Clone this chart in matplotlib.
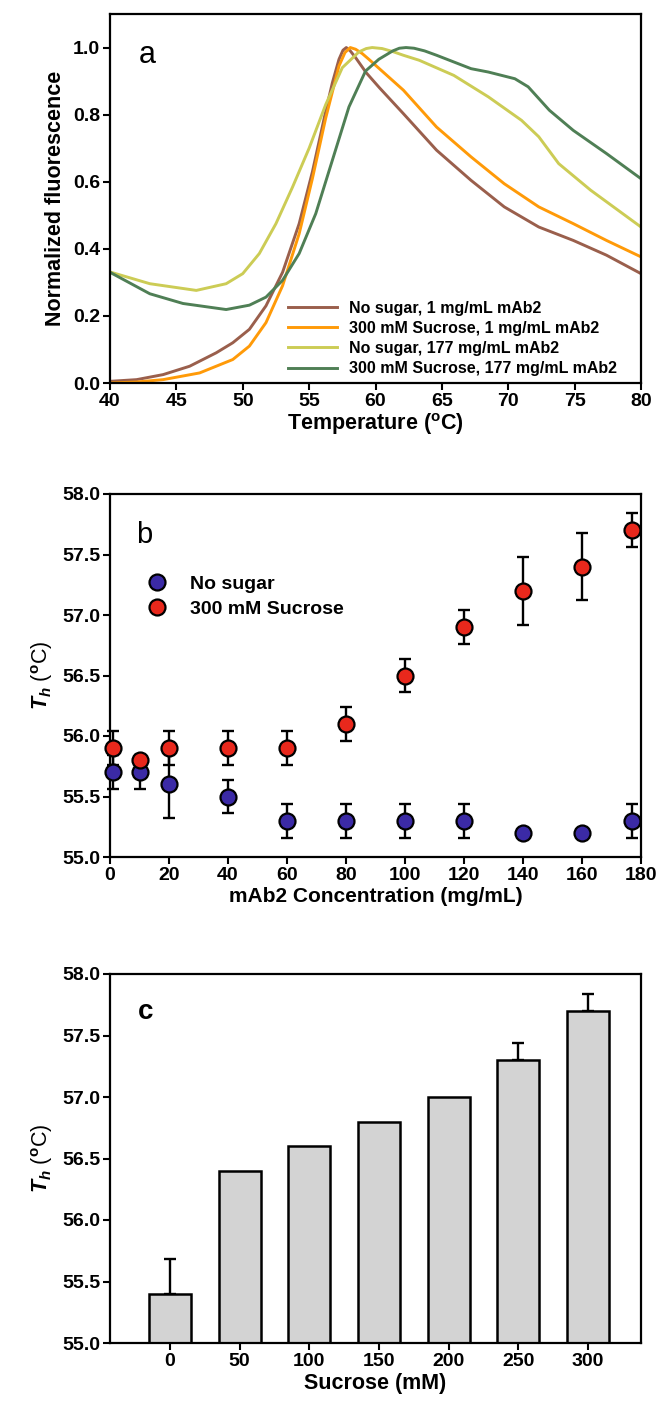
import matplotlib
matplotlib.use("Agg")
import matplotlib.pyplot as plt
from matplotlib.ticker import FormatStrFormatter

plt.rcParams['font.family'] = ['Liberation Sans', 'DejaVu Sans']
plt.rcParams['font.weight'] = 'bold'
plt.rcParams['mathtext.fontset'] = 'custom'
plt.rcParams['mathtext.rm'] = 'Liberation Sans:bold'
plt.rcParams['mathtext.it'] = 'Liberation Sans:italic:bold'
plt.rcParams['mathtext.bf'] = 'Liberation Sans:bold'

# ---------------- Panel a data ----------------
t_brown = [40, 42, 44, 46, 48, 49.25, 50.5, 51.75, 53, 54.25, 55.25, 56.25, 56.75, 57.25, 57.55, 57.8,
           58.1, 58.5, 59.3, 60.3, 62.1, 64.6, 67.2, 69.7, 72.3, 74.9, 77.4, 80]
v_brown = [0.005, 0.01, 0.025, 0.05, 0.09, 0.12, 0.16, 0.23, 0.33, 0.475, 0.63, 0.81, 0.895, 0.965, 0.992, 1.0,
           0.99, 0.97, 0.925, 0.88, 0.803, 0.694, 0.604, 0.525, 0.465, 0.425, 0.381, 0.326]

t_orange = [40, 42, 44, 46.75, 49.25, 50.5, 51.75, 53, 54.25, 55.25, 56.25, 57.25, 57.7, 58.1,
            58.5, 59.0, 59.5, 62.1, 64.6, 67.2, 69.7, 72.3, 74.9, 77.4, 80]
v_orange = [0.0, 0.003, 0.01, 0.03, 0.07, 0.11, 0.18, 0.29, 0.445, 0.61, 0.79, 0.945, 0.985, 1.0,
            0.995, 0.982, 0.965, 0.873, 0.763, 0.674, 0.594, 0.525, 0.475, 0.425, 0.376]

t_yellow = [40, 43, 46.5, 48.75, 50, 51.25, 52.5, 53.75, 55, 56.25, 57.5, 58.75, 59.3, 59.75,
            60.5, 61.3, 62.1, 63.3, 65.9, 68.5, 71, 72.3, 73.8, 76.2, 80]
v_yellow = [0.331, 0.296, 0.276, 0.296, 0.326, 0.386, 0.475, 0.584, 0.70, 0.83, 0.94, 0.987, 0.997, 1.0,
            0.997, 0.988, 0.977, 0.962, 0.917, 0.853, 0.783, 0.734, 0.654, 0.575, 0.465]

t_green = [40, 43, 45.5, 48.75, 50.5, 51.75, 53, 54.25, 55.5, 56.75, 58, 59.25, 60.25, 61.3, 61.8,
           62.3, 62.9, 63.7, 64.6, 67.2, 68.5, 70.5, 71.5, 73.1, 74.9, 77.4, 80]
v_green = [0.33, 0.266, 0.237, 0.219, 0.232, 0.256, 0.306, 0.386, 0.505, 0.664, 0.823, 0.93, 0.965, 0.99, 0.998,
           1.0, 0.998, 0.99, 0.977, 0.937, 0.927, 0.907, 0.883, 0.813, 0.753, 0.684, 0.609]

labels_a = ["No sugar, 1 mg/mL mAb2", "300 mM Sucrose, 1 mg/mL mAb2",
            "No sugar, 177 mg/mL mAb2", "300 mM Sucrose, 177 mg/mL mAb2"]
colors_a = ["#9a5f4c", "#ff9a08", "#cccc55", "#4f7f55"]

# ---------------- Panel b data ----------------
conc = [1, 10, 20, 40, 60, 80, 100, 120, 140, 160, 177]
th_nosugar = [55.7, 55.7, 55.6, 55.5, 55.3, 55.3, 55.3, 55.3, 55.2, 55.2, 55.3]
err_nosugar = [0.14, 0.14, 0.28, 0.14, 0.14, 0.14, 0.14, 0.14, 0.0, 0.0, 0.14]
th_sucrose = [55.9, 55.8, 55.9, 55.9, 55.9, 56.1, 56.5, 56.9, 57.2, 57.4, 57.7]
err_sucrose = [0.14, 0.0, 0.14, 0.14, 0.14, 0.14, 0.14, 0.14, 0.28, 0.28, 0.14]

# ---------------- Panel c data ----------------
sucrose_mM = [0, 50, 100, 150, 200, 250, 300]
th_bar = [55.4, 56.4, 56.6, 56.8, 57.0, 57.3, 57.7]
err_bar = [0.28, 0.0, 0.0, 0.0, 0.0, 0.14, 0.14]

W, H = 657, 1405
fig = plt.figure(figsize=(W / 100, H / 100), dpi=100)

TICK_FS = 14
LABEL_FS = 15.5


def ax_at(left, top, right, bottom):
    return fig.add_axes([left / W, 1 - bottom / H, (right - left) / W, (bottom - top) / H])


def style(ax):
    for s in ax.spines.values():
        s.set_linewidth(1.6)
    ax.tick_params(direction='out', length=5, width=1.5, labelsize=TICK_FS, pad=2)
    for lab in ax.get_xticklabels() + ax.get_yticklabels():
        lab.set_fontweight('bold')


def nonzero(xs, ys, es):
    keep = [i for i, e in enumerate(es) if e > 0]
    return [xs[i] for i in keep], [ys[i] for i in keep], [es[i] for i in keep]


# Panel a
axa = ax_at(110, 14, 641, 383)
for t, v, c, lab in zip([t_brown, t_orange, t_yellow, t_green],
                        [v_brown, v_orange, v_yellow, v_green], colors_a, labels_a):
    axa.plot(t, v, color=c, lw=2.1, label=lab, solid_joinstyle='round')
axa.set_xlim(40, 80)
axa.set_ylim(0, 1.1)
axa.set_xticks(range(40, 81, 5))
axa.set_yticks([0, 0.2, 0.4, 0.6, 0.8, 1.0])
axa.yaxis.set_major_formatter(FormatStrFormatter('%.1f'))
style(axa)
axa.set_xlabel(r'Temperature ($^{\rm o}$C)', fontsize=LABEL_FS, fontweight='bold', labelpad=1)
axa.set_ylabel('Normalized fluorescence', fontsize=LABEL_FS, fontweight='bold', labelpad=5)
axa.text(0.055, 0.89, 'a', transform=axa.transAxes, fontsize=22, fontweight='normal',
         va='center', ha='left')
axa.legend(loc='lower left', bbox_to_anchor=(0.335, 0.018), frameon=False,
           handlelength=3.1, handletextpad=0.75, labelspacing=0.33, borderaxespad=0.0,
           borderpad=0.0, prop={'weight': 'bold', 'size': 11.5})

# Panel b
axb = ax_at(110, 494, 641, 857)
for th, er in ((th_nosugar, err_nosugar), (th_sucrose, err_sucrose)):
    xs, ys, es = nonzero(conc, th, er)
    axb.errorbar(xs, ys, yerr=es, fmt='none', ecolor='black',
                 elinewidth=1.7, capsize=4.5, capthick=1.7, clip_on=False, zorder=2)
axb.plot(conc, th_nosugar, 'o', ms=11.5, mfc='#3b2aa6', mec='black', mew=1.6,
         clip_on=False, zorder=3, label='No sugar')
axb.plot(conc, th_sucrose, 'o', ms=11.5, mfc='#e8281c', mec='black', mew=1.6,
         clip_on=False, zorder=3, label='300 mM Sucrose')
axb.set_xlim(0, 180)
axb.set_ylim(55, 58)
axb.set_xticks(range(0, 181, 20))
axb.set_yticks([55.0, 55.5, 56.0, 56.5, 57.0, 57.5, 58.0])
axb.yaxis.set_major_formatter(FormatStrFormatter('%.1f'))
style(axb)
axb.set_xlabel('mAb2 Concentration (mg/mL)', fontsize=LABEL_FS - 0.5, fontweight='bold', labelpad=2)
axb.set_ylabel(r'$\mathit{T_h}$ ($^{\rm o}$C)', fontsize=LABEL_FS, labelpad=5)
axb.text(0.05, 0.887, 'b', transform=axb.transAxes, fontsize=21, fontweight='normal',
         va='center', ha='left')
axb.legend(loc='upper left', bbox_to_anchor=(0.07, 0.775), frameon=False,
           handlelength=1.0, handletextpad=1.2, labelspacing=0.35, borderaxespad=0.0,
           borderpad=0.0, prop={'weight': 'bold', 'size': 14})

# Panel c
axc = ax_at(110, 974, 641, 1343)
axc.bar(sucrose_mM, th_bar, width=30, bottom=0, color='#d3d3d3', edgecolor='black',
        linewidth=1.8, zorder=2)
xs, ys, es = nonzero(sucrose_mM, th_bar, err_bar)
axc.errorbar(xs, ys, yerr=[[0] * len(es), es], fmt='none',
             ecolor='black', elinewidth=1.7, capsize=4.5, capthick=1.7, zorder=1)
axc.set_xlim(-43, 338)
axc.set_ylim(55, 58)
axc.set_xticks(sucrose_mM)
axc.set_yticks([55.0, 55.5, 56.0, 56.5, 57.0, 57.5, 58.0])
axc.yaxis.set_major_formatter(FormatStrFormatter('%.1f'))
style(axc)
axc.set_xlabel('Sucrose (mM)', fontsize=LABEL_FS, fontweight='bold', labelpad=2)
axc.set_ylabel(r'$\mathit{T_h}$ ($^{\rm o}$C)', fontsize=LABEL_FS, labelpad=5)
axc.text(0.052, 0.897, 'c', transform=axc.transAxes, fontsize=20, fontweight='bold',
         va='center', ha='left')

fig.savefig('out.png', dpi=100)
